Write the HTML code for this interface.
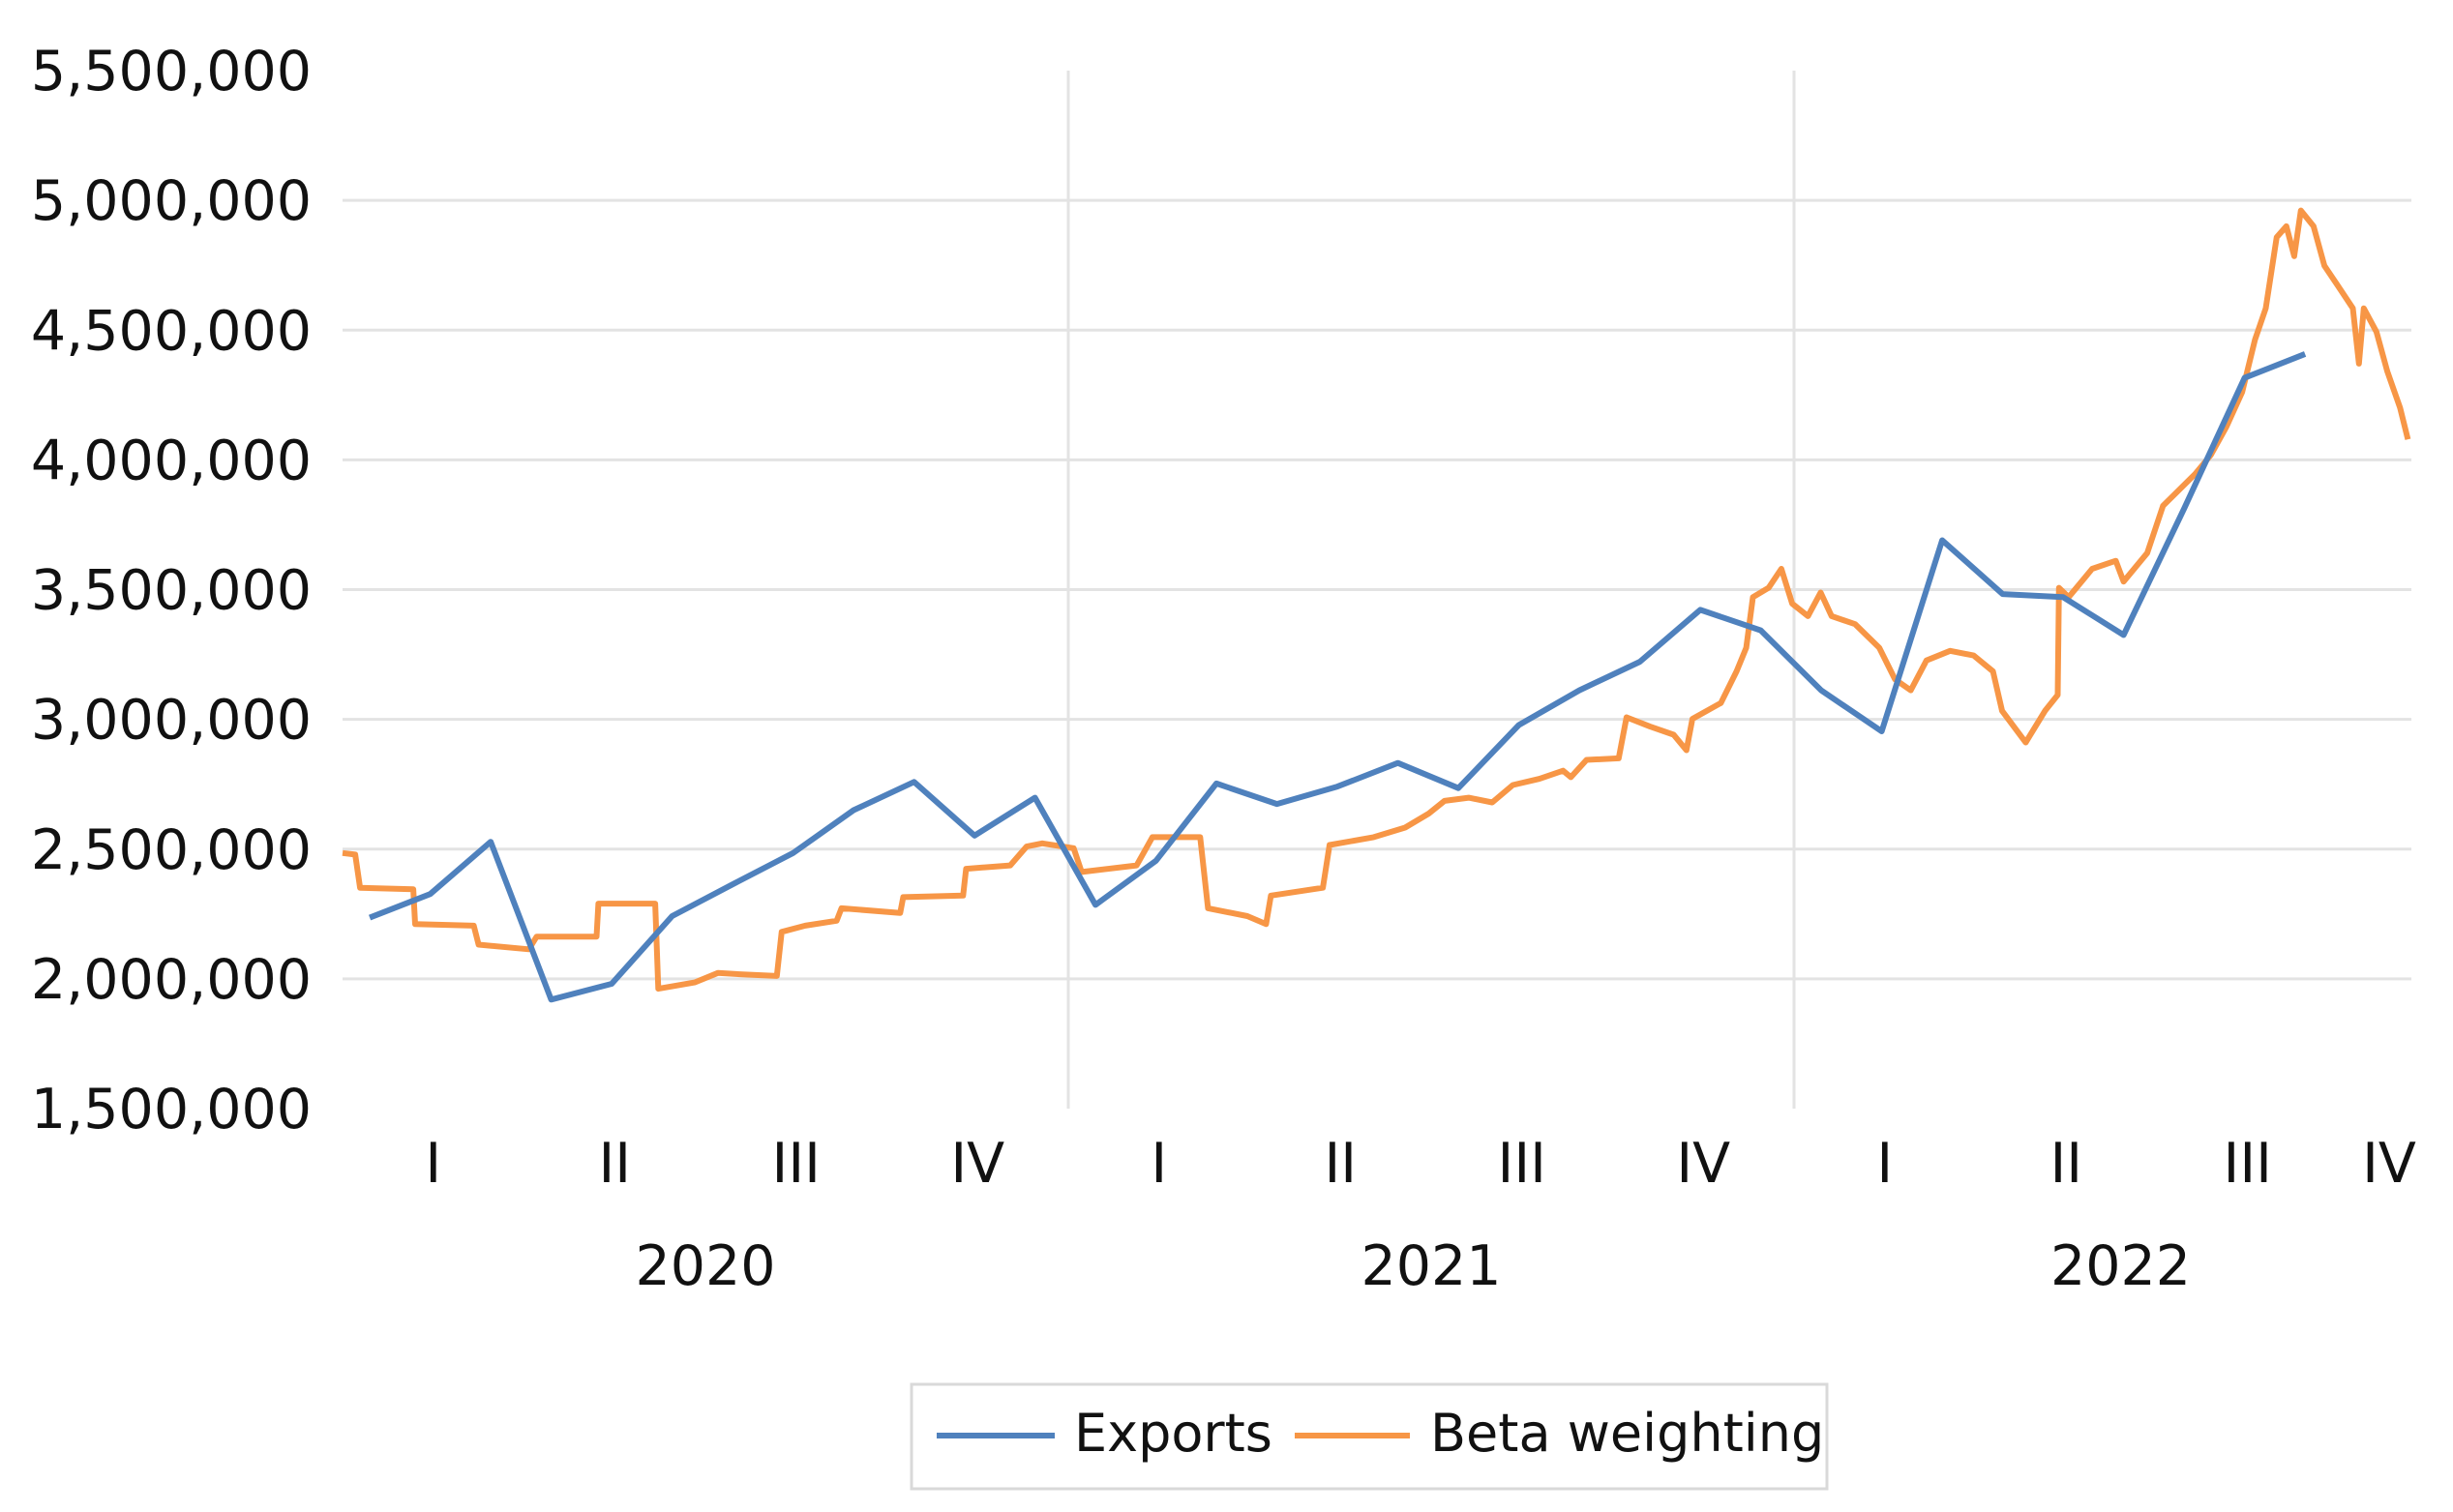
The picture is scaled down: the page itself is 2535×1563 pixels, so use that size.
<!DOCTYPE html>
<html><head><meta charset="utf-8"><style>
html,body{margin:0;padding:0;background:#fff;}
svg{display:block;font-family:"DejaVu Sans","Liberation Sans",sans-serif;}
</style></head><body>
<svg id="chart" width="2535" height="1563" viewBox="0 0 2535 1563" xmlns="http://www.w3.org/2000/svg">
<g id="grid"></g>
<g id="yaxis"></g>
<g id="xaxis"></g>
<g id="series"></g>
<g>
  <rect x="942" y="1431" width="946" height="108" fill="#fff" stroke="#d9d9d9" stroke-width="3"/>
  <line x1="968" y1="1484" x2="1090" y2="1484" stroke="#4f81bd" stroke-width="6"/>
  <text x="1110" y="1500" font-size="54" fill="#111">Exports</text>
  <line x1="1338" y1="1484" x2="1457" y2="1484" stroke="#f79646" stroke-width="6"/>
  <text x="1478" y="1500" font-size="54" fill="#111">Beta weighting</text>
</g>
</svg>
<script>
const yTicks = [1.5, 2.0, 2.5, 3.0, 3.5, 4.0, 4.5, 5.0, 5.5];
const yTickLabels = ["1,500,000","2,000,000","2,500,000","3,000,000","3,500,000","4,000,000","4,500,000","5,000,000","5,500,000"];
const quarterLabels = ["I","II","III","IV","I","II","III","IV","I","II","III","IV"];
const yearLabels = ["2020","2021","2022"];
const exportsValues = [2.236,2.327,2.528,1.920,1.981,2.242,2.364,2.485,2.650,2.759,2.552,2.698,2.285,2.455,2.753,2.674,2.741,2.832,2.735,2.978,3.112,3.222,3.422,3.343,3.112,2.954,3.690,3.483,3.471,3.325,3.812,4.316,4.408];
const betaMonths = [0.00,0.21,0.29,1.17,1.20,2.17,2.25,3.08,3.21,4.20,4.23,5.17,5.22,5.82,6.21,6.61,7.18,7.26,7.65,8.17,8.25,9.22,9.27,10.26,10.31,11.04,11.31,11.57,12.09,12.22,13.13,13.39,14.18,14.31,14.96,15.27,15.35,16.21,16.32,17.05,17.57,17.96,18.22,18.62,19.01,19.35,19.79,20.18,20.31,20.57,21.10,21.23,21.62,22.01,22.22,22.32,22.79,23.05,23.21,23.32,23.58,23.79,23.97,24.23,24.44,24.62,25.01,25.41,25.67,25.93,26.19,26.58,26.97,27.29,27.44,27.83,28.15,28.36,28.38,28.54,28.93,29.32,29.45,29.84,30.10,30.63,30.89,31.15,31.41,31.62,31.80,31.98,32.14,32.27,32.38,32.59,32.77,32.98,33.24,33.34,33.42,33.63,33.81,34.02,34.15];
const betaValues = [2.485,2.479,2.351,2.345,2.211,2.205,2.132,2.114,2.163,2.163,2.290,2.290,1.962,1.986,2.023,2.017,2.011,2.181,2.205,2.224,2.272,2.254,2.315,2.321,2.424,2.437,2.510,2.522,2.503,2.412,2.437,2.546,2.546,2.272,2.242,2.211,2.321,2.351,2.516,2.546,2.583,2.637,2.686,2.698,2.680,2.747,2.771,2.802,2.777,2.844,2.850,3.008,2.972,2.941,2.881,3.002,3.063,3.185,3.276,3.471,3.507,3.580,3.446,3.398,3.489,3.398,3.367,3.276,3.154,3.112,3.227,3.264,3.246,3.185,3.033,2.911,3.033,3.094,3.507,3.471,3.580,3.611,3.531,3.641,3.823,3.945,4.018,4.128,4.261,4.462,4.584,4.858,4.900,4.785,4.961,4.900,4.748,4.675,4.584,4.371,4.584,4.493,4.341,4.201,4.079];

const NS = "http://www.w3.org/2000/svg";
const X0 = 354, PXM = 62.5, XR = 2492;
const Y0 = 73, Y1 = 1146;
function xm(m){ return X0 + PXM*m; }
function yv(v){ return Y0 + (5.5 - v)/4*(Y1-Y0); }
function mk(tag, attrs, parent){
  const e = document.createElementNS(NS, tag);
  for (const k in attrs) e.setAttribute(k, attrs[k]);
  parent.appendChild(e); return e;
}
const grid = document.getElementById('grid');
yTicks.forEach(v => {
  if (v <= 1.5 || v >= 5.5) return;
  const l = mk('line', {x1:X0, x2:XR, y1:yv(v), y2:yv(v), stroke:'#e3e3e3', 'stroke-width':3}, grid);
  
  
});
[12, 24].forEach(m => {
  const l = mk('line', {x1:xm(m), x2:xm(m), y1:Y0, y2:Y1, stroke:'#e3e3e3', 'stroke-width':3}, grid);
  
  
});
const yaxis = document.getElementById('yaxis');
yTicks.forEach((v, i) => {
  const t = mk('text', {x:322, y:yv(v)+20, 'text-anchor':'end', 'font-size':57, fill:'#111'}, yaxis);
  t.textContent = yTickLabels[i];
  
  
});
const xaxis = document.getElementById('xaxis');
quarterLabels.forEach((q, i) => {
  const cx = Math.min(xm(3*i+1.5), 2469);
  const t = mk('text', {x:cx, y:1222, 'text-anchor':'middle', 'font-size':57, fill:'#111'}, xaxis);
  t.textContent = q;
  
  
});
yearLabels.forEach((y, i) => {
  const cx = i < 2 ? xm(12*i+6) : xm(29.4);
  const t = mk('text', {x:cx, y:1328, 'text-anchor':'middle', 'font-size':57, fill:'#111'}, xaxis);
  t.textContent = y;
  
  
});
const series = document.getElementById('series');
const ep = exportsValues.map((v, i) => xm(i+0.45).toFixed(1) + ',' + yv(v).toFixed(1)).join(' ');
const bp = betaValues.map((v, i) => xm(betaMonths[i]).toFixed(1) + ',' + yv(v).toFixed(1)).join(' ');
const bl = mk('polyline', {points:bp, fill:'none', stroke:'#f79646', 'stroke-width':6, 'stroke-linejoin':'round'}, series);


const el = mk('polyline', {points:ep, fill:'none', stroke:'#4f81bd', 'stroke-width':6, 'stroke-linejoin':'round'}, series);


</script>
</body></html>
